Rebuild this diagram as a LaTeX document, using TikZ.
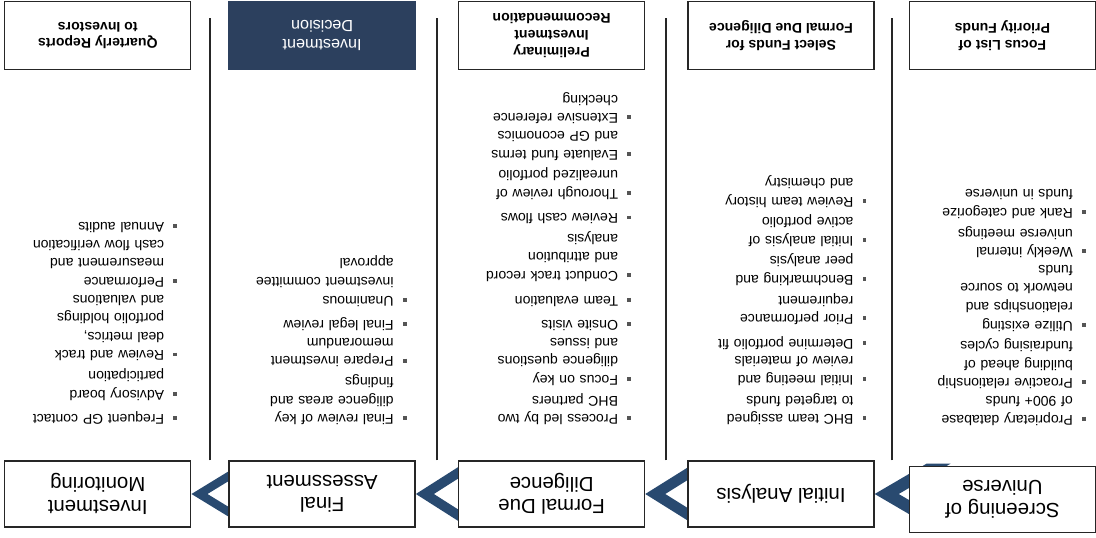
\documentclass[tikz,border=0pt]{standalone}
\usepackage{fontspec}
\setmainfont{Liberation Sans}
\usetikzlibrary{calc, positioning}
\definecolor{chevblue}{RGB}{41,74,112}
\definecolor{decblue}{RGB}{44,64,94}
\definecolor{bulletgray}{RGB}{85,85,85}
\pgfdeclarelayer{background}
\pgfsetlayers{background,main}
\newcommand{\bitem}[1]{\par\noindent\makebox[3.25mm][l]{\textcolor{bulletgray}{\rule[0.45mm]{0.95mm}{0.95mm}}}\parbox[t]{41mm}{#1}}

\begin{document}
\begin{tikzpicture}[x=1mm, y=1mm, rotate=180, transform shape,
		stepbox/.style={draw=black!85, line width=1pt, fill=white, minimum width=46.5mm, minimum height=16.5mm, align=center, inner sep=1mm, font=\fontsize{14.5}{16}\selectfont},
		resbox/.style={draw=black!85, line width=1pt, fill=white, minimum width=46.5mm, minimum height=17mm, align=center, inner sep=1mm, font=\fontsize{10}{12}\selectfont\bfseries},
		decbox/.style={resbox, draw=decblue, fill=decblue, text=white, font=\fontsize{11.5}{13}\selectfont},
		bullets/.style={anchor=north west, text width=45mm, inner sep=0pt, font=\fontsize{10}{13.2}\selectfont\setlength{\parskip}{4.3pt}},
		divider/.style={line width=1.3pt, black!85}]
		\useasboundingbox (0,0) rectangle (274,-134.25);
		% process steps
		\node[stepbox] (s1) at (23.4,-9.4) {Screening of\\Universe};
		\node[stepbox, right=8.5mm of s1, yshift=-1.35mm] (s2) {Initial Analysis};
		\node[stepbox, right=10.5mm of s2] (s3) {Formal Due\\Diligence};
		\node[stepbox, right=10.5mm of s3] (s4) {Final\\Assessment};
		\node[stepbox, right=9.25mm of s4] (s5) {Investment\\Monitoring};
		% outcomes
		\node[resbox, below=98.9mm of s1] (r1) {Focus List of\\Priority Funds};
		\node[resbox, below=97.5mm of s2] (r2) {Select Funds for\\Formal Due Diligence};
		\node[resbox, below=97.5mm of s3] (r3) {Preliminary\\Investment\\Recommendation};
		\node[decbox, below=97.5mm of s4] (r4) {Investment\\Decision};
		\node[resbox, below=97.5mm of s5] (r5) {Quarterly Reports\\to Investors};
		% column dividers
		\coordinate (g1) at ($(s1.east)!0.5!(s2.west)$);
		\coordinate (g2) at ($(s2.east)!0.5!(s3.west)$);
		\coordinate (g3) at ($(s3.east)!0.5!(s4.west)$);
		\coordinate (g4) at ($(s4.east)!0.5!(s5.west)$);
		\draw[divider] (g1 |- s2.south) -- ($(g1 |- r2.south)+(0,4.25)$);
		\draw[divider] (g2 |- s3.south) -- ($(g2 |- r3.south)+(0,4.25)$);
		\draw[divider] (g3 |- s4.south) -- ($(g3 |- r4.south)+(0,4.25)$);
		\draw[divider] (g4 |- s5.south) -- ($(g4 |- r5.south)+(0,4.25)$);
		% activities
		\node[bullets] (t1) at ($(s1.south west)+(2.5,-6.45)$) {%
			\bitem{Proprietary database\\of 900+ funds}
			\bitem{Proactive relationship\\building ahead of\\fundraising cycles}
			\bitem{Utilize existing\\relationships and\\network to source\\funds}
			\bitem{Weekly internal\\universe meetings}
			\bitem{Rank and categorize\\funds in universe}};
		\node[bullets] (t2) at ($(s2.south west)+(2,-5.2)$) {%
			\bitem{BHC team assigned\\to targeted funds}
			\bitem{Initial meeting and\\review of materials}
			\bitem{Determine portfolio fit}
			\bitem{Prior performance\\requirement}
			\bitem{Benchmarking and\\peer analysis}
			\bitem{Initial analysis of\\active portfolio}
			\bitem{Review team history\\and chemistry}};
		\node[bullets] (t3) at ($(s3.south west)+(3.5,-5.2)$) {%
			\bitem{Process led by two\\BHC partners}
			\bitem{Focus on key\\diligence questions\\and issues}
			\bitem{Onsite visits}
			\bitem{Team evaluation}
			\bitem{Conduct track record\\and attribution\\analysis}
			\bitem{Review cash flows}
			\bitem{Thorough review of\\unrealized portfolio}
			\bitem{Evaluate fund terms\\and GP economics}
			\bitem{Extensive reference\\checking}};
		\node[bullets] (t4) at ($(s4.south west)+(2.25,-5.2)$) {%
			\bitem{Final review of key\\diligence areas and\\findings}
			\bitem{Prepare investment\\memorandum}
			\bitem{Final legal review}
			\bitem{Unanimous\\investment committee\\approval}};
		\node[bullets] (t5) at ($(s5.south west)+(3.5,-5.2)$) {%
			\bitem{Frequent GP contact}
			\bitem{Advisory board\\participation}
			\bitem{Review and track\\deal metrics,\\portfolio holdings\\and valuations}
			\bitem{Performance\\measurement and\\cash flow verification}
			\bitem{Annual audits}};
		% chevrons between the steps
		\begin{pgfonlayer}{background}
			\foreach \nxt/\L/\H/\T in {s2/13/7.6/6, s3/12/7.5/5, s4/11/7/4.5, s5/9/5.5/4}
				\fill[chevblue] ($(\nxt.west)+(-\L-\T,\H)$) -- ($(\nxt.west)+(-\L,\H)$) -- (\nxt.west)
					-- ($(\nxt.west)+(-\L,-\H)$) -- ($(\nxt.west)+(-\L-\T,-\H)$) -- ($(\nxt.west)+(-\T,0)$) -- cycle;
		\end{pgfonlayer}
	\end{tikzpicture}
\end{document}
